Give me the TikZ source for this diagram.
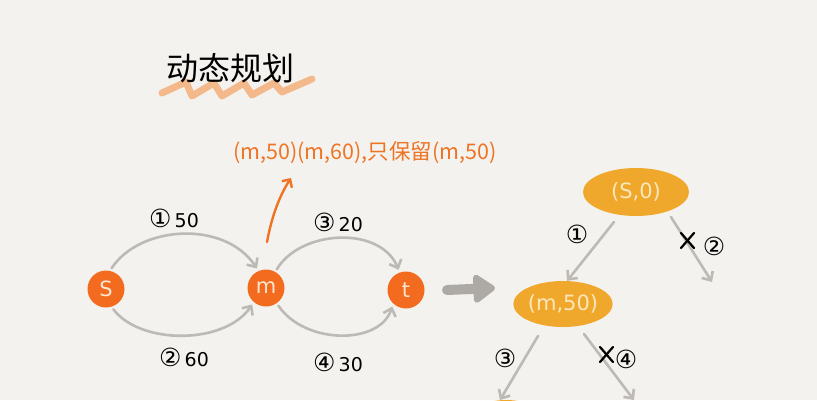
\documentclass[tikz,border=0pt]{standalone}
\usepackage{fontspec}
\setmainfont{DejaVu Sans}
\newfontfamily\cjk{Noto Sans CJK SC}
\usetikzlibrary{arrows.meta,shapes.geometric}
\definecolor{bg}{HTML}{F4F2EE}
\definecolor{org}{HTML}{F26B1F}
\definecolor{txtorg}{HTML}{EE7424}
\definecolor{gold}{HTML}{F0A82C}
\definecolor{edge}{HTML}{BDBAB5}
\definecolor{bigarrow}{HTML}{ADAAA5}
\definecolor{brush}{HTML}{F5A66B}
\definecolor{paletxt}{HTML}{FBE6D2}
\definecolor{goldtxt}{HTML}{FCE7BC}
\newcommand{\cnum}[1]{{\fontsize{25}{25}\selectfont #1}}
\tikzset{
  vert/.style={circle, fill=org, minimum size=37pt, inner sep=0pt, outer sep=3pt,
    text=paletxt, font=\fontsize{21}{21}\selectfont},
  state/.style={ellipse, fill=gold, inner sep=0pt, text=goldtxt,
    font=\fontsize{21}{21}\selectfont},
  garc/.style={draw=edge, line width=2.6pt, line cap=round,
    -{Straight Barb[length=7pt,width=13pt,line width=2.6pt]}},
  lab/.style={font=\fontsize{19}{19}\selectfont, text=black},
  xmark/.style={draw=black, line width=2.2pt, line cap=round}
}
\begin{document}
\begin{tikzpicture}[x=1pt,y=-1pt]
\fill[bg] (0,0) rectangle (817,400);
\useasboundingbox (0,0) rectangle (817,400);
\clip (0,0) rectangle (817,400);
% title brush
\draw[brush, opacity=0.75, line width=7pt, line cap=round, line join=round]
  (162,93) -- (186,82) -- (192,96) -- (214,83) -- (222,96) -- (244,83) -- (252,95)
  -- (274,83) -- (282,92) -- (312,79);
\node[font=\cjk\fontsize{32}{32}\selectfont, text=black] (title) at (230,68) {动态规划};
% orange note
\node[font=\cjk\fontsize{21.5}{21.5}\selectfont, text=txtorg] (note) at (365,153)
  {(m,50)(m,60),只保留(m,50)};
\coordinate (nstart) at (267,242);
\coordinate (nend) at (291,178);
\draw[txtorg, line width=2.4pt, line cap=round,
  -{Straight Barb[length=6pt,width=12pt,line width=2.4pt]}]
  (nstart) .. controls (272,215) and (280,195) .. (nend);
% graph
\node[vert] (S) at (106,289) {S};
\node[vert] (m) at (266,288) {m};
\node[vert] (t) at (406,290) {t};
\draw[garc] (S.75) .. controls (140,225) and (225,220) .. (m.115);
\draw[garc] (S.-70) .. controls (140,345) and (225,345) .. (m.-130);
\draw[garc] (m.60) .. controls (300,230) and (380,225) .. (t.110);
\draw[garc] (m.-55) .. controls (305,345) and (380,345) .. (t.-130);
\node[lab] (l1) at (174,218) {\cnum{①}\,50};
\node[lab] (l2) at (184,357) {\cnum{②}\,60};
\node[lab] (l3) at (338,222) {\cnum{③}\,20};
\node[lab] (l4) at (338,362) {\cnum{④}\,30};
% big arrow
\coordinate (ba) at (447,290);
\coordinate (bb) at (495,288);
\draw[bigarrow, line width=10pt, line cap=round,
  -{Triangle[length=24pt,width=32pt,round]}] (ba) -- (bb);
% tree
\node[state, minimum width=106pt, minimum height=48pt] (s0) at (636,192) {(S,0)};
\node[state, minimum width=86pt, minimum height=46pt] (m50) at (563,304) {(m,50)};
\node[state, minimum width=80pt, minimum height=44pt] (c3) at (506,422) {};
\coordinate (d2) at (712,282);
\coordinate (d4) at (634,400);
\draw[garc] (614,222) -- (m50.80);
\draw[garc] (671,217) -- (d2);
\draw[garc] (538,336) -- (500,400);
\draw[garc] (584,334) -- (d4);
\node[lab] (t1) at (577,234) {\cnum{①}};
\node[lab] (t2) at (714,246) {\cnum{②}};
\node[lab] (t3) at (505,358) {\cnum{③}};
\node[lab] (t4) at (626,359) {\cnum{④}};
\draw[xmark] (681,233) -- (694,248) (694,233) -- (681,248);
\draw[xmark] (600,347) -- (613,362) (613,347) -- (600,362);
\end{tikzpicture}
\end{document}
